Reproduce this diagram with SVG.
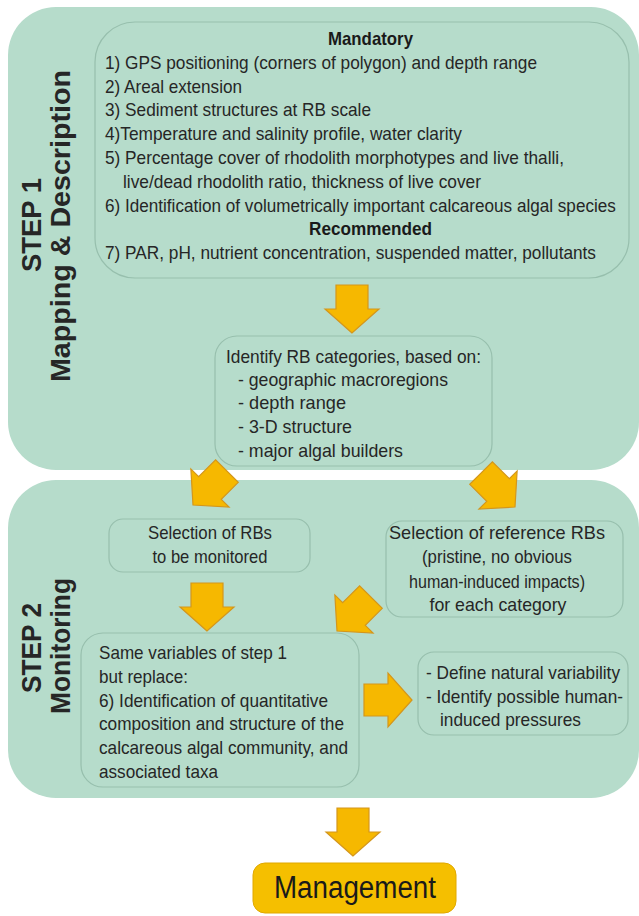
<svg xmlns="http://www.w3.org/2000/svg" xmlns:xlink="http://www.w3.org/1999/xlink" width="639" height="916" viewBox="0 0 639 916">
<style>
.panel{fill:#b6dccb}
.box{fill:#b6dccb;stroke:#97bfad;stroke-width:1.2}
.arrow{fill:#f6b800;stroke:#d4961c;stroke-width:1.2;stroke-linejoin:miter}
.t{font-family:"Liberation Sans",Arial,sans-serif;font-size:18.5px;fill:#262626}
.b{font-weight:bold;fill:#1a1a1a}
.m{text-anchor:middle}
.lab{font-family:"Liberation Sans",Arial,sans-serif;font-size:28px;font-weight:bold;fill:#262626;text-anchor:middle}
.mg{fill:#f5bf00;stroke:#e0a800;stroke-width:1}
</style>
<defs>
<polygon id="arw" points="0,0 -27,-24 -16,-24 -16,-48 16,-48 16,-24 27,-24"/>
</defs>
<rect width="639" height="916" fill="#ffffff"/>
<g id="step1">
<rect class="panel" x="8" y="7" width="631" height="463" rx="48"/>
<text class="lab" transform="translate(41,225) rotate(-90)" textLength="94" lengthAdjust="spacingAndGlyphs">STEP 1</text>
<text class="lab" transform="translate(70,226) rotate(-90)" textLength="312" lengthAdjust="spacingAndGlyphs">Mapping &amp; Description</text>
</g>
<g id="step2">
<rect class="panel" x="8" y="480" width="631" height="318" rx="48"/>
<text class="lab" transform="translate(41,648) rotate(-90)" textLength="90" lengthAdjust="spacingAndGlyphs">STEP 2</text>
<text class="lab" transform="translate(70,646) rotate(-90)" textLength="136" lengthAdjust="spacingAndGlyphs">Monitoring</text>
</g>
<g id="variables">
<rect class="box" x="95" y="22" width="534" height="256" rx="40"/>
<text class="t b m" x="370.5" y="45" textLength="85" lengthAdjust="spacingAndGlyphs">Mandatory</text>
<text class="t" x="105" y="69" textLength="432" lengthAdjust="spacingAndGlyphs">1) GPS positioning (corners of polygon) and depth range</text>
<text class="t" x="105" y="93" textLength="137" lengthAdjust="spacingAndGlyphs">2) Areal extension</text>
<text class="t" x="105" y="116" textLength="266" lengthAdjust="spacingAndGlyphs">3) Sediment structures at RB scale</text>
<text class="t" x="105" y="140" textLength="357" lengthAdjust="spacingAndGlyphs">4)Temperature and salinity profile, water clarity</text>
<text class="t" x="105" y="164" textLength="459" lengthAdjust="spacingAndGlyphs">5) Percentage cover of rhodolith morphotypes and live thalli,</text>
<text class="t" x="123" y="188" textLength="358" lengthAdjust="spacingAndGlyphs">live/dead rhodolith ratio, thickness of live cover</text>
<text class="t" transform="translate(105,212) scale(0.86,1)" textLength="594" lengthAdjust="spacingAndGlyphs">6) Identification of volumetrically important calcareous algal species</text>
<text class="t b m" x="370.5" y="235" textLength="123" lengthAdjust="spacingAndGlyphs">Recommended</text>
<text class="t" x="105" y="259" textLength="491" lengthAdjust="spacingAndGlyphs">7) PAR, pH, nutrient concentration, suspended matter, pollutants</text>
</g>
<g id="categories">
<rect class="box" x="215" y="336" width="277" height="130" rx="22"/>
<text class="t" x="226" y="363" textLength="255" lengthAdjust="spacingAndGlyphs">Identify RB categories, based on:</text>
<text class="t" x="238" y="386" textLength="210" lengthAdjust="spacingAndGlyphs">- geographic macroregions</text>
<text class="t" x="238" y="409" textLength="108" lengthAdjust="spacingAndGlyphs">- depth range</text>
<text class="t" x="238" y="433" textLength="114" lengthAdjust="spacingAndGlyphs">- 3-D structure</text>
<text class="t" x="238" y="457" textLength="165" lengthAdjust="spacingAndGlyphs">- major algal builders</text>
</g>
<g id="selection">
<rect class="box" x="109" y="519" width="201" height="53" rx="14"/>
<text class="t m" x="210" y="539" textLength="124" lengthAdjust="spacingAndGlyphs">Selection of RBs</text>
<text class="t m" x="210" y="563" textLength="115" lengthAdjust="spacingAndGlyphs">to be monitored</text>
</g>
<g id="reference">
<rect class="box" x="386" y="521" width="237" height="96" rx="16"/>
<text class="t m" x="497" y="539" textLength="216" lengthAdjust="spacingAndGlyphs">Selection of reference RBs</text>
<text class="t m" x="497" y="563" textLength="150" lengthAdjust="spacingAndGlyphs">(pristine, no obvious</text>
<text class="t m" x="497" y="588" textLength="176" lengthAdjust="spacingAndGlyphs">human-induced impacts)</text>
<text class="t m" x="498" y="611" textLength="137" lengthAdjust="spacingAndGlyphs">for each category</text>
</g>
<g id="monitoring-vars">
<rect class="box" x="81" y="633" width="278" height="154" rx="22"/>
<text class="t" x="99" y="659" textLength="188" lengthAdjust="spacingAndGlyphs">Same variables of step 1</text>
<text class="t" x="99" y="683" textLength="89" lengthAdjust="spacingAndGlyphs">but replace:</text>
<text class="t" x="99" y="707" textLength="229" lengthAdjust="spacingAndGlyphs">6) Identification of quantitative</text>
<text class="t" x="99" y="730" textLength="245" lengthAdjust="spacingAndGlyphs">composition and structure of the</text>
<text class="t" x="99" y="754" textLength="249" lengthAdjust="spacingAndGlyphs">calcareous algal community, and</text>
<text class="t" x="99" y="778" textLength="119" lengthAdjust="spacingAndGlyphs">associated taxa</text>
</g>
<g id="outcomes">
<rect class="box" x="418" y="652" width="210" height="83" rx="16"/>
<text class="t" x="426" y="679" textLength="194" lengthAdjust="spacingAndGlyphs">- Define natural variability</text>
<text class="t" x="426" y="703" textLength="197" lengthAdjust="spacingAndGlyphs">- Identify possible human-</text>
<text class="t" x="440" y="726" textLength="141" lengthAdjust="spacingAndGlyphs">induced pressures</text>
</g>
<g id="management">
<rect class="mg" x="253" y="863" width="203" height="50" rx="12"/>
<text x="355" y="898" font-family="Liberation Sans, Arial, sans-serif" font-size="31" fill="#1a1a1a" text-anchor="middle" textLength="162" lengthAdjust="spacingAndGlyphs">Management</text>
</g>
<g id="connectors">
<use href="#arw" xlink:href="#arw" class="arrow" transform="translate(352,333)"/>
<use href="#arw" xlink:href="#arw" class="arrow" transform="translate(193,505) rotate(45)"/>
<use href="#arw" xlink:href="#arw" class="arrow" transform="translate(515,507) rotate(-45)"/>
<use href="#arw" xlink:href="#arw" class="arrow" transform="translate(207,631)"/>
<use href="#arw" xlink:href="#arw" class="arrow" transform="translate(337,631) rotate(45)"/>
<use href="#arw" xlink:href="#arw" class="arrow" transform="translate(412,700) rotate(-90)"/>
<use href="#arw" xlink:href="#arw" class="arrow" transform="translate(353,856)"/>
</g>
</svg>
